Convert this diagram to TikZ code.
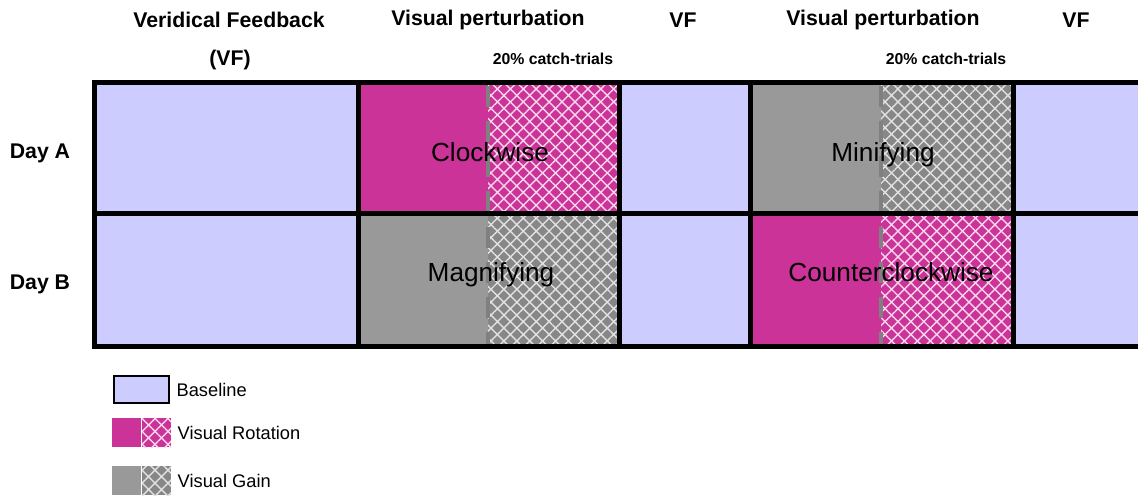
\documentclass[tikz,border=0pt]{standalone}
\usepackage{fontspec}
\setmainfont{Liberation Sans}
\usetikzlibrary{positioning, patterns.meta}
\definecolor{baseblue}{HTML}{CCCCFF}
\definecolor{rotpink}{HTML}{CC3399}
\definecolor{gaingray}{HTML}{999999}
\definecolor{gaindark}{HTML}{878787}
\definecolor{sepgray}{HTML}{808080}
\tikzset{basecell/.style={
        fill=baseblue,
        draw=black!55,
        line width=0.5pt
}}
\tikzset{rotsolid/.style={
        fill=rotpink
}}
\tikzset{rothatch/.style={
        preaction={fill=rotpink},
        pattern={Hatch[angle=45,distance=5.2pt,line width=0.8pt]},
        pattern color=white!80!rotpink
}}
\tikzset{gainsolid/.style={
        fill=gaingray
}}
\tikzset{gainhatch/.style={
        preaction={fill=gaindark},
        pattern={Hatch[angle=45,distance=5.2pt,line width=0.8pt]},
        pattern color=white!75!gaindark
}}
\tikzset{catchline/.style={draw=sepgray,line width=2.8pt,dash pattern=on 12pt off 8pt}}
\tikzset{gridline/.style={draw=black,line width=2.8pt}}
\tikzset{head/.style={font=\fontsize{12.1}{14}\selectfont\bfseries, inner sep=0pt}}
\tikzset{catch/.style={font=\fontsize{9}{11}\selectfont\bfseries, inner sep=0pt}}
\tikzset{blocklabel/.style={font=\fontsize{14.9}{17}\selectfont, inner sep=0pt, anchor=base}}
\tikzset{legtext/.style={font=\fontsize{10.4}{12}\selectfont, inner sep=0pt}}
\tikzset{legbox/.style={inner sep=0pt, minimum height=0.58cm}}

\begin{document}
\begin{tikzpicture}[x=0.02cm,y=-0.02cm]
\useasboundingbox (0,0) rectangle (1138,496);

% day A
\path[basecell] (96,84) rectangle (357,212);
\path[rotsolid] (360,84) rectangle (488,212);
\path[rothatch] (488,84) rectangle (618,212);
\path[basecell] (621,84) rectangle (749,212);
\path[gainsolid] (752,84) rectangle (881,212);
\path[gainhatch] (881,84) rectangle (1012,212);
\path[basecell] (1015,84) rectangle (1150,212);
% day B
\path[basecell] (96,215) rectangle (357,345);
\path[gainsolid] (360,215) rectangle (488,345);
\path[gainhatch] (488,215) rectangle (618,345);
\path[basecell] (621,215) rectangle (749,345);
\path[rotsolid] (752,215) rectangle (881,345);
\path[rothatch] (881,215) rectangle (1012,345);
\path[basecell] (1015,215) rectangle (1150,345);

\draw[catchline] (488,86) -- (488,345);
\draw[catchline] (881,86) -- (881,345);

\draw[gridline] (94.5,82.5) rectangle (1160,346.5);
\draw[gridline] (94.5,213.5) -- (1160,213.5);
\draw[gridline] (358.5,82.5) -- (358.5,346.5);
\draw[gridline] (619.5,82.5) -- (619.5,346.5);
\draw[gridline] (750.5,82.5) -- (750.5,346.5);
\draw[gridline] (1013.5,82.5) -- (1013.5,346.5);

\node[head] (hvf) at (229,20) {Veridical Feedback};
\node[head] (hvfshort) at (230,60) {(VF)};
\node[head] (hpert1) at (488,20) {Visual perturbation};
\node[head] (hvf1) at (683,20) {VF};
\node[head] (hpert2) at (883,20) {Visual perturbation};
\node[head] (hvf2) at (1076,20) {VF};
\node[catch] (catch1) at (553,59) {20\% catch-trials};
\node[catch] (catch2) at (946,59) {20\% catch-trials};

\node[head] (daya) at (40,153) {Day A};
\node[head] (dayb) at (40,284) {Day B};

\node[blocklabel] (cw) at (490,161.5) {Clockwise};
\node[blocklabel] (mini) at (883,161.5) {Minifying};
\node[blocklabel] (magn) at (491,281.5) {Magnifying};
\node[blocklabel] (ccw) at (891,281.5) {Counterclockwise};

% legend
\node[basecell, draw=black, line width=1.3pt, legbox, minimum width=1.1cm, minimum height=0.54cm, anchor=north west] (legbase) at (113,375) {};
\node[legtext, right=0.12cm of legbase] (legbasetxt) {Baseline};
\node[rotsolid, legbox, minimum width=0.58cm, anchor=north west] (legrot) at (112,418) {};
\node[rothatch, legbox, minimum width=0.58cm, right=0pt of legrot] (legrothatch) {};
\node[legtext, right=0.12cm of legrothatch] (legrottxt) {Visual Rotation};
\node[gainsolid, legbox, minimum width=0.58cm, anchor=north west] (leggain) at (112,466) {};
\node[gainhatch, legbox, minimum width=0.58cm, right=0pt of leggain] (leggainhatch) {};
\node[legtext, right=0.12cm of leggainhatch] (leggaintxt) {Visual Gain};
\end{tikzpicture}
\end{document}
